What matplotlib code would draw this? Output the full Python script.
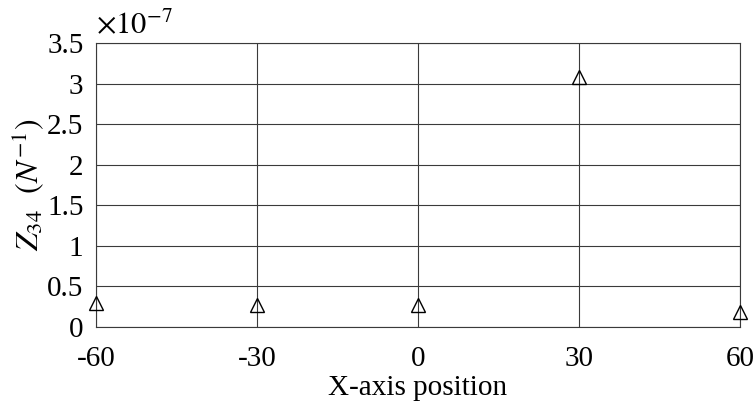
import matplotlib
matplotlib.use("Agg")
import matplotlib.pyplot as plt

positions = [-60, -30, 0, 30, 60]
z34 = [0.30e-7, 0.265e-7, 0.265e-7, 3.08e-7, 0.18e-7]
xticks = [-60, -30, 0, 30, 60]
xticklabels = ["-60", "-30", "0", "30", "60"]
yticks = [0, 0.5, 1, 1.5, 2, 2.5, 3, 3.5]
yticklabels = ["0", "0.5", "1", "1.5", "2", "2.5", "3", "3.5"]

plt.rcParams["font.family"] = ["Liberation Serif", "DejaVu Serif"]
plt.rcParams["mathtext.fontset"] = "stix"

fig = plt.figure(figsize=(7.55, 4.03), dpi=100)
ax = fig.add_axes([96 / 755, 1 - 327 / 403, 644 / 755, 284 / 403])

ax.plot(positions, z34, linestyle="none", marker="^", markersize=10,
        markerfacecolor="none", markeredgecolor="black", markeredgewidth=1.0,
        clip_on=False, zorder=3)

ax.set_xlim(-60, 60)
ax.set_ylim(0, 3.5e-7)
ax.set_xticks(xticks)
ax.set_xticklabels(xticklabels)
ax.set_yticks([v * 1e-7 for v in yticks])
ax.set_yticklabels(yticklabels)
ax.tick_params(axis="y", labelsize=21, length=0, pad=9)
ax.tick_params(axis="x", labelsize=21, length=0, pad=14)
ax.grid(True, color="#3a3a3a", linewidth=0.8)
ax.set_axisbelow(True)
for sp in ax.spines.values():
    sp.set_linewidth(0.8)
    sp.set_color("#3a3a3a")

ax.set_xlabel("X-axis position", fontsize=21, labelpad=2)
ax.set_ylabel(r"$Z_{34}$  $(N^{-1})$", fontsize=23, labelpad=1)
ax.text(0.0, 1.01, r"$\times 10^{-7}$", transform=ax.transAxes,
        fontsize=22, ha="left", va="bottom")

fig.savefig("out.png", dpi=100)
